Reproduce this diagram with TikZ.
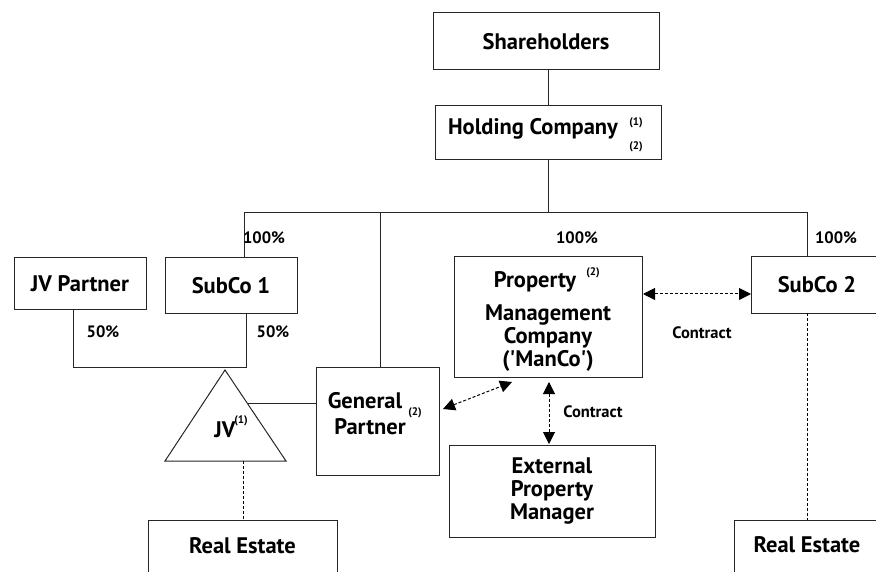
\documentclass[tikz,border=0pt]{standalone}
\usepackage{fontspec}
\setmainfont{PT Sans}
\usetikzlibrary{arrows.meta}
\begin{document}
\begin{tikzpicture}[x=1pt,y=-1pt,
  box/.style={draw=black!85,line width=1pt,rectangle,inner sep=0pt,fill=white},
  big/.style={font=\fontsize{22.5}{23.2}\selectfont\bfseries},
  small/.style={font=\fontsize{16.5}{18}\selectfont\bfseries},
  sup/.style={font=\fontsize{11}{12}\selectfont\bfseries,inner sep=0pt},
  conn/.style={draw=black!85,line width=1pt},
  dsh/.style={draw=black,line width=1pt,dash pattern=on 3pt off 2pt},
  darr/.style={dsh,{Triangle[length=12pt,width=12pt]}-{Triangle[length=12pt,width=12pt]}}]
\useasboundingbox (0,0) rectangle (876,572);
\begin{scope}
\clip (0,0) rectangle (876,572);
% boxes
\node[box,big,minimum width=226pt,minimum height=57pt] (sh) at (546,41.5) {Shareholders};
\node[box,minimum width=226pt,minimum height=54pt] (hc) at (548,133) {};
\node[box,big,minimum width=132pt,minimum height=51pt] (jvp) at (80,283.5) {JV Partner};
\node[box,big,minimum width=132pt,minimum height=55pt] (sub1) at (231,285.5) {SubCo 1};
\node[box,minimum width=123pt,minimum height=108pt] (gp) at (377.5,421) {};
\node[box,minimum width=188pt,minimum height=120pt] (manco) at (548,317) {};
\node[box,big,minimum width=132pt,minimum height=56pt] (sub2) at (817,285) {SubCo 2};
\node[box,minimum width=206pt,minimum height=92pt] (ext) at (552,491) {};
\node[box,minimum width=189pt,minimum height=80pt] (re1) at (242.5,560) {};
\node[box,minimum width=146pt,minimum height=80pt] (re2) at (807,560) {};
% texts in boxes
\node[big,inner sep=0pt] (hct) at (533,129) {Holding Company};
\node[sup] (hcs1) at (636,123) {(1)};
\node[sup] (hcs2) at (636,147) {(2)};
\node[big,inner sep=0pt] (gpt1) at (365,401) {General};
\node[big,inner sep=0pt] (gpt2) at (370,427) {Partner};
\node[sup] (gps) at (415,413) {(2)};
\node[big,inner sep=0pt] (mt1) at (535,282) {Property};
\node[sup] (mts) at (593,273) {(2)};
\node[big,inner sep=0pt,align=center] (mt2) at (548,338) {Management\\Company\\(\textquotesingle ManCo\textquotesingle)};
\node[big,inner sep=0pt,align=center] (et) at (552,491) {External\\Property\\Manager};
\node[big,inner sep=0pt] (ret1) at (242.5,546) {Real Estate};
\node[big,inner sep=0pt] (ret2) at (807,545) {Real Estate};
% triangle JV
\coordinate (ta) at (225,370);
\coordinate (tl) at (165,461);
\coordinate (tr) at (286,461);
\draw[conn,line join=miter] (ta) -- (tl) -- (tr) -- cycle;
\node[big,inner sep=0pt] (jvt) at (225,430) {JV};
\node[sup] (jvs) at (241,421) {(1)};
% ownership lines
\coordinate (bL) at (244,213);
\coordinate (bR) at (807,213);
\coordinate (bG) at (380,213);
\draw[conn] (hc.south -| hc) -- (hc |- bL);
\draw[conn] (sh.south -| hc) -- (hc.north);
\draw[conn] (bL |- sub1.north) -- (bL) -- (bR) -- (bR |- sub2.north);
\draw[conn] (bG) -- (bG |- gp.north);
\coordinate (jA) at (73,367);
\coordinate (jB) at (246,367);
\draw[conn] (jA |- jvp.south) -- (jA) -- (jB) -- (jB |- sub1.south);
\coordinate (tj) at (247,403);
\draw[conn] (tj) -- (tj -| gp.west);
% dashed to real estate
\coordinate (tb) at (243,461);
\draw[dsh] (tb) -- (tb |- re1.north);
\coordinate (s2) at (807,313);
\draw[dsh] (s2) -- (s2 |- re2.north);
% contract arrows
\coordinate (a1) at (443,409);
\coordinate (a2) at (512,382);
\draw[darr] (a1) -- (a2);
\coordinate (v1) at (549,382);
\coordinate (v2) at (549,444);
\draw[darr] (v1) -- (v2);
\coordinate (h1) at (643,294);
\coordinate (h2) at (751,294);
\draw[darr] (h1) -- (h2);
% labels
\node[small] (p1) at (264,238) {100\%};
\node[small] (p2) at (577,238) {100\%};
\node[small] (p3) at (836,238) {100\%};
\node[small] (p4) at (103,332) {50\%};
\node[small] (p5) at (273,332) {50\%};
\node[small] (c1) at (702,333) {Contract};
\node[small] (c2) at (593,412) {Contract};
\end{scope}
\end{tikzpicture}
\end{document}
